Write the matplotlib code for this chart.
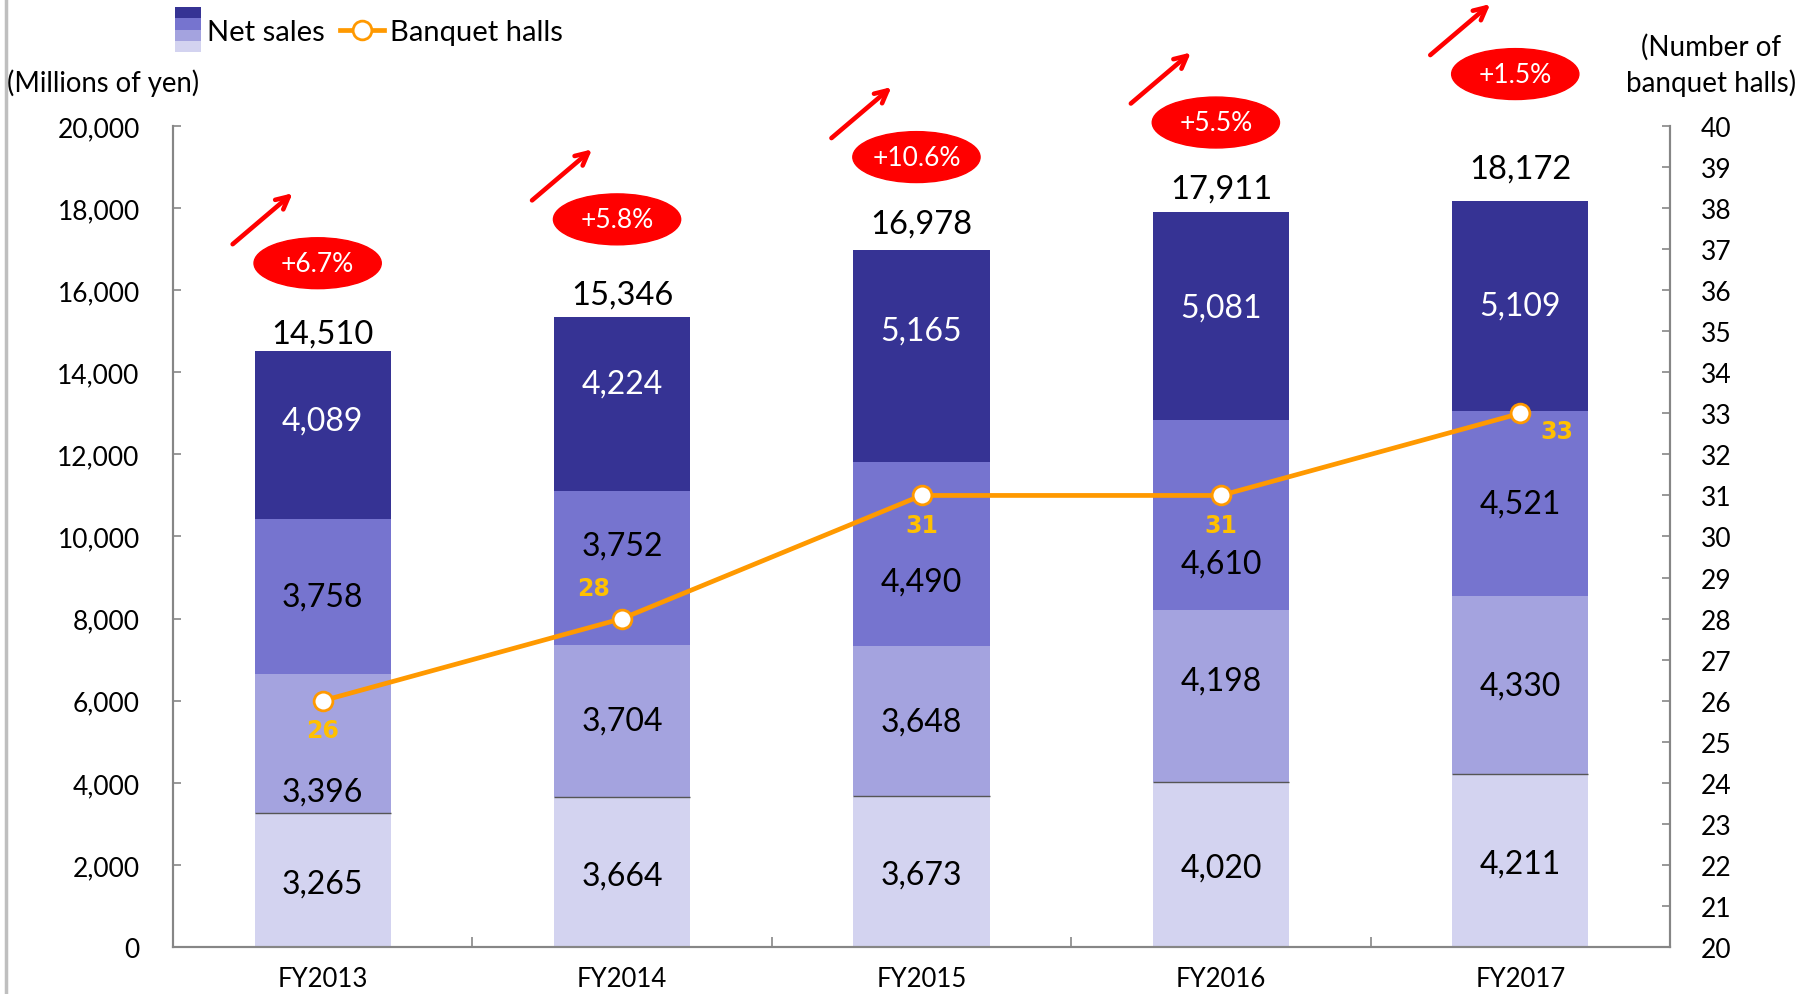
import matplotlib
matplotlib.use("Agg")
import matplotlib.pyplot as plt
import matplotlib.patches as mpatches
import matplotlib.lines as mlines
import matplotlib.transforms as mtransforms
from matplotlib.legend_handler import HandlerBase
import numpy as np

plt.rcParams['font.family'] = ['Lato', 'DejaVu Sans']

# data
years = ["FY2013", "FY2014", "FY2015", "FY2016", "FY2017"]
seg1 = [3265, 3664, 3673, 4020, 4211]
seg2 = [3396, 3704, 3648, 4198, 4330]
seg3 = [3758, 3752, 4490, 4610, 4521]
seg4 = [4089, 4224, 5165, 5081, 5109]
totals = ["14,510", "15,346", "16,978", "17,911", "18,172"]
halls = [26, 28, 31, 31, 33]
growth = ["+6.7%", "+5.8%", "+10.6%", "+5.5%", "+1.5%"]

# layout tweaks (label nudges in data units, badge heights)
nudge = [[-80, -1180, 0, 365], [-80, 0, 534, 506], [-80, 0, -674, 635],
         [-80, 365, -1180, 197], [-80, 0, 0, 0]]
total_off = [2.3, 5.7, 8.1, 5.7, 12.3]
hall_lbl_off = [(0, -29), (-29, 31), (0, -30), (0, -30), (37, -18)]
badge_y = [16657, 17725, 19242, 20084, 21264]

colors = ["#D3D3F0", "#A4A3DF", "#7674CF", "#363394"]
orange = "#FF9900"
gray = "#868686"

fig = plt.figure(figsize=(18.08, 9.95), dpi=100)
ax = fig.add_axes([0.0957, 0.0472, 0.828, 0.8252])
ax2 = ax.twinx()

x = np.arange(len(years))
width = 0.455
segs = [seg1, seg2, seg3, seg4]
bottom = np.zeros(len(years))
for k, seg in enumerate(segs):
    vals = np.array(seg)
    ax.bar(x, vals, width, bottom=bottom, color=colors[k], zorder=2)
    for i in range(len(years)):
        ycen = bottom[i] + vals[i] / 2 + nudge[i][k]
        ax.text(x[i], ycen, f"{vals[i]:,}", ha='center', va='center',
                fontsize=23, color='white' if k == 3 else 'black', zorder=3)
    bottom = bottom + vals
ax.hlines(seg1, x - width / 2, x + width / 2, color="#555555", lw=1, zorder=3)

for i in range(len(years)):
    ax.annotate(totals[i], (x[i], bottom[i]), xytext=(0, total_off[i]),
                textcoords='offset points', ha='center', va='bottom', fontsize=23.5)

# growth badges and arrows
for i in range(len(years)):
    bx = x[i] - 0.017
    ax.add_patch(mpatches.Ellipse((bx, badge_y[i]), 0.425, 1240, color='#FF0000',
                                  clip_on=False, zorder=4))
    ax.text(bx, badge_y[i], growth[i], ha='center', va='center', color='white',
            fontsize=19, zorder=5, clip_on=False)
    tip = mtransforms.offset_copy(ax.transData, fig=fig, x=-25, y=70, units='dots')
    ax.annotate('', xy=(bx, badge_y[i]), xycoords=tip, xytext=(-60, -51),
                textcoords='offset pixels', annotation_clip=False,
                arrowprops=dict(arrowstyle='->,head_length=0.9,head_width=0.45',
                                color='#FF0000', lw=3.3, shrinkA=0, shrinkB=0))

ax.set_xlim(-0.5, len(years) - 0.5)
ax.set_ylim(0, 20000)
ax.set_yticks(np.arange(0, 20001, 2000))
ax.set_yticklabels([f"{v:,}" for v in range(0, 20001, 2000)])
ax.set_xticks(x)
ax.set_xticklabels(years)
ax.set_xticks(x[:-1] + 0.5, minor=True)
ax.tick_params(axis='x', which='major', length=0, pad=14, labelsize=18.5)
ax.tick_params(axis='x', which='minor', direction='in', length=7, color=gray, width=1.2)
ax.tick_params(axis='y', direction='in', length=6, color=gray, width=1.2, pad=24, labelsize=19)

# banquet halls line
ax2.plot(x, halls, color=orange, lw=3.4, marker='o', markersize=13.5,
         markerfacecolor='white', markeredgecolor=orange, markeredgewidth=2, zorder=6)
for i in range(len(years)):
    ax2.annotate(str(halls[i]), (x[i], halls[i]), xytext=hall_lbl_off[i],
                 textcoords='offset pixels', ha='center', va='center',
                 fontsize=17, fontweight='bold', family='DejaVu Sans',
                 color='#FFC000', zorder=7)
ax2.set_ylim(20, 40)
ax2.set_yticks(range(20, 41))
ax2.tick_params(axis='y', direction='in', length=6, color=gray, width=1.2, pad=22, labelsize=19)
ax2.set_zorder(ax.get_zorder() + 1)
ax2.patch.set_visible(False)

for a in (ax, ax2):
    a.spines['top'].set_visible(False)
    for s in ('left', 'right', 'bottom'):
        a.spines[s].set_color(gray)
        a.spines[s].set_linewidth(1.5)

# axis titles
fig.text(0.057, 0.916, "(Millions of yen)", ha='center', va='center', fontsize=19.8)
fig.text(0.9465, 0.934, "(Number of\nbanquet halls)", ha='center', va='center',
         fontsize=20, linespacing=1.4)

# left slide border
fig.add_artist(mlines.Line2D([0.0035, 0.0035], [0, 1], color="#BFBFBF", lw=2.5))


class StackHandler(HandlerBase):
    def create_artists(self, legend, orig_handle, xdescent, ydescent, width, height,
                       fontsize, trans):
        w = width * 0.6
        h = height * 2.2
        x0 = -xdescent + width - w
        y0 = -ydescent + height / 2 - h / 2
        arts = []
        for j, c in enumerate(colors):
            r = mpatches.Rectangle((x0, y0 + j * h / 4), w, h / 4, facecolor=c,
                                   edgecolor='none', transform=trans)
            arts.append(r)
        return arts


stack_handle = mpatches.Patch()
line_handle = mlines.Line2D([], [], color=orange, lw=3.4, marker='o', markersize=13.5,
                            markerfacecolor='white', markeredgecolor=orange,
                            markeredgewidth=2)
fig.legend([stack_handle, line_handle], ["Net sales", "Banquet halls"],
           handler_map={mpatches.Patch: StackHandler()},
           loc='center left', bbox_to_anchor=(0.087, 0.967), ncol=2, frameon=False,
           fontsize=21, borderpad=0, borderaxespad=0, handlelength=1.5,
           handletextpad=0.22, columnspacing=0.5)

fig.savefig("out.png", dpi=100)
